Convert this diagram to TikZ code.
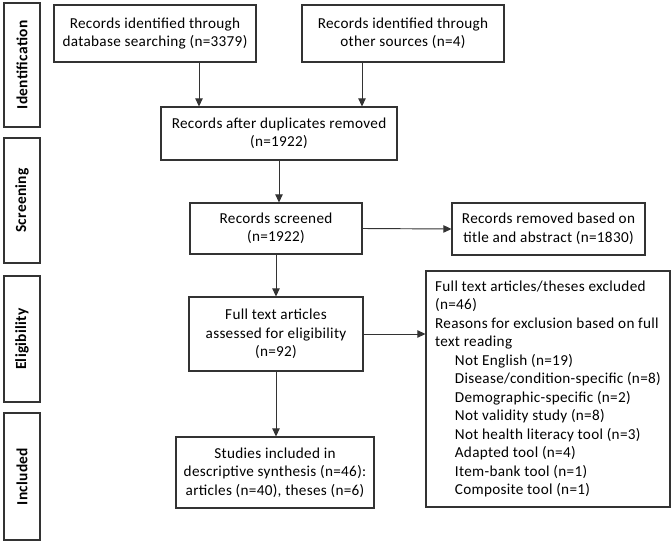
\documentclass[tikz,border=0pt]{standalone}
\usepackage{fontspec}
\setmainfont[LetterSpace=2]{Carlito}
\usetikzlibrary{arrows.meta}
\begin{document}
\begin{tikzpicture}[x=0.75pt,y=-0.75pt,
  every node/.style={font=\fontsize{11.4}{13.9}\selectfont},
  box/.style={draw=black!80,line width=0.8pt,align=center,inner sep=2pt},
  stage/.style={draw=black!80,line width=0.8pt,rotate=90,minimum height=27pt,inner sep=0pt,font=\fontsize{11.6}{13.9}\selectfont\bfseries},
  arr/.style={draw=black!80,line width=0.7pt,-{Triangle[length=6pt,width=5.5pt]}}]
\useasboundingbox (0,0) rectangle (671,543);
% phases on the left
\node [stage,minimum width=93pt] (ident) at (22,65) {Identification};
\node [stage,minimum width=93.75pt] (screen) at (22,200.5) {Screening};
\node [stage,minimum width=94.5pt] (elig) at (22,339) {Eligibility};
\node [stage,minimum width=95.25pt] (incl) at (22,476.5) {Included};
% boxes
\node [box,minimum width=151.5pt,minimum height=42.75pt] (dbase) at (155,33.5) {Records identified through\\database searching (n=3379)};
\node [box,minimum width=151.5pt,minimum height=42.75pt] (other) at (403,33.5) {Records identified through\\other sources (n=4)};
\node [box,minimum width=177pt,minimum height=39.75pt] (dupl) at (279,133.5) {Records after duplicates removed\\(n=1922)};
\node [box,minimum width=129pt,minimum height=38.25pt] (scr) at (276,228.5) {Records screened\\(n=1922)};
\node [box,minimum width=144.75pt,minimum height=39pt] (rem) at (548.5,229) {Records removed based on\\title and abstract (n=1830)};
\node [box,minimum width=130.5pt,minimum height=55.5pt] (full) at (276,334) {Full text articles\\assessed for eligibility\\(n=92)};
\node [box,minimum width=148.5pt,minimum height=53.25pt] (syn) at (275,472.5) {Studies included in\\descriptive synthesis (n=46):\\articles (n=40), theses (n=6)};
\node [box,align=left,minimum width=183pt,minimum height=177pt,inner sep=0pt] (excl) at (548,389) {Full text articles/theses excluded\\(n=46)\\Reasons for exclusion based on full\\text reading\\
\hspace*{14.8pt}Not English (n=19)\\
\hspace*{14.8pt}Disease/condition-specific (n=8)\\
\hspace*{14.8pt}Demographic-specific (n=2)\\
\hspace*{14.8pt}Not validity study (n=8)\\
\hspace*{14.8pt}Not health literacy tool (n=3)\\
\hspace*{14.8pt}Adapted tool (n=4)\\
\hspace*{14.8pt}Item-bank tool (n=1)\\
\hspace*{14.8pt}Composite tool (n=1)};
% arrows
\draw [arr] ([xshift=33pt]dbase.south) -- ([xshift=33pt]dbase.south |- dupl.north);
\draw [arr] ([xshift=-30.75pt]other.south) -- ([xshift=-30.75pt]other.south |- dupl.north);
\draw [arr] (dupl.south) -- (dupl.south |- scr.north);
\draw [arr] (scr.east) -- (rem.west);
\draw [arr] (scr.south) -- (full.north);
\draw [arr] (full.east) -- (full.east -| excl.west);
\draw [arr] (full.south) -- (full.south |- syn.north);
\end{tikzpicture}
\end{document}
